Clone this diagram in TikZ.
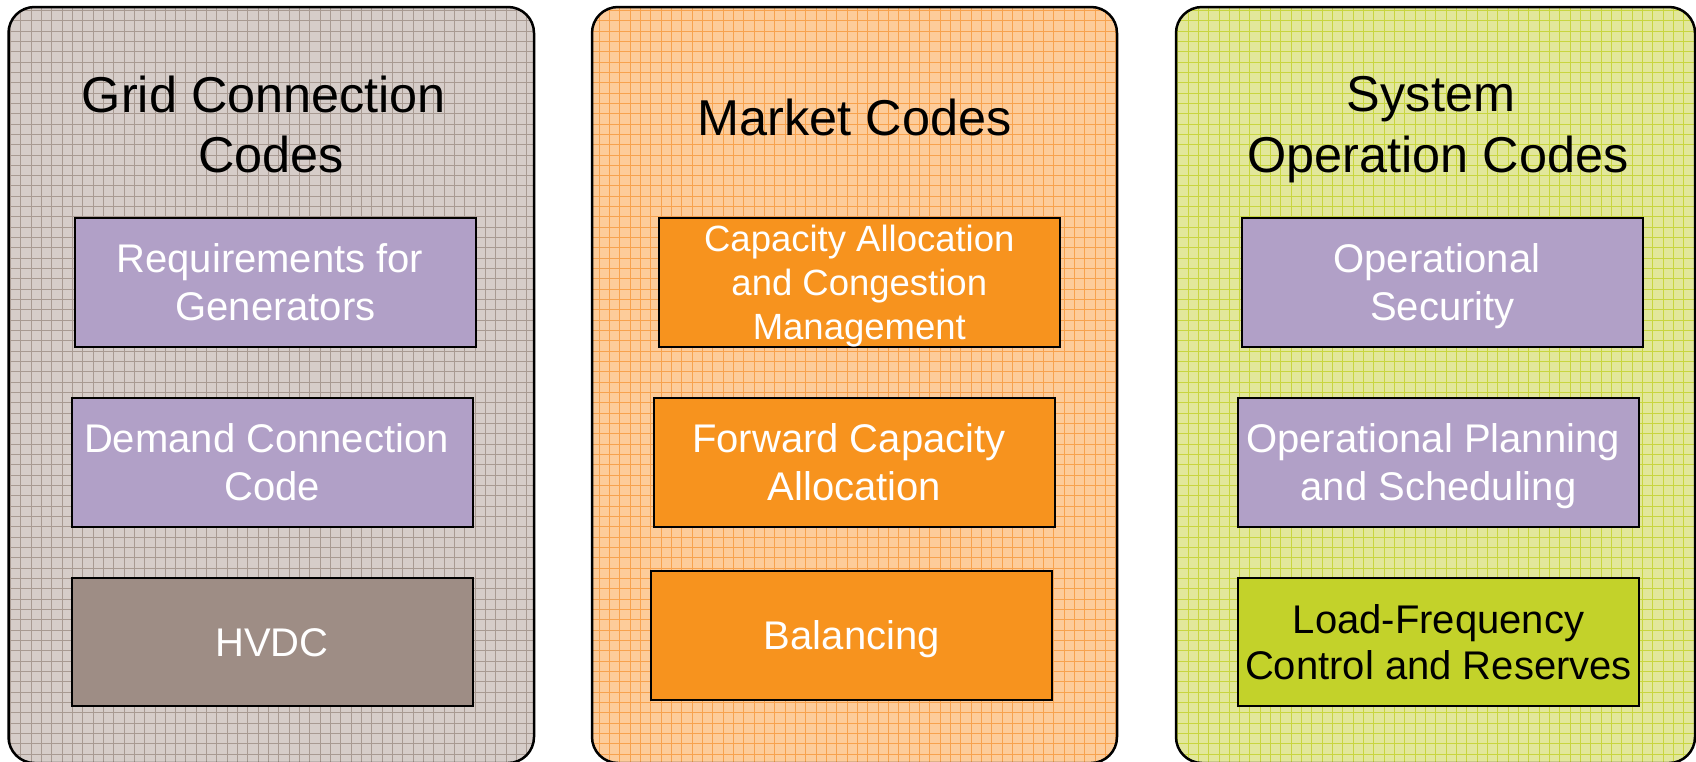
\documentclass[tikz,border=0pt]{standalone}
\usepackage{fontspec}
\setmainfont{Liberation Sans}
\definecolor{gcbg}{HTML}{D6CDC9}
\definecolor{gcline}{HTML}{A89A92}
\definecolor{mkbg}{HTML}{FDCC9A}
\definecolor{mkline}{HTML}{F7A24E}
\definecolor{sobg}{HTML}{E2E79B}
\definecolor{soline}{HTML}{C8D540}
\definecolor{purp}{HTML}{B1A0C7}
\definecolor{hvdcc}{HTML}{9E8D85}
\definecolor{orng}{HTML}{F7931E}
\definecolor{lfcc}{HTML}{C3D22A}
\newcommand\lnstrut{\rule[-0.18em]{0pt}{1.08em}}
\begin{document}
\begin{tikzpicture}[x=1pt,y=-1pt,
  panel/.style={draw=black, line width=2.5pt, rounded corners=26pt},
  gridln/.style={line width=0.9pt, step=10.33pt},
  box/.style={draw=black, line width=2pt, inner sep=0pt, text=white, align=center,
    font=\fontsize{40}{48}\selectfont},
  title/.style={inner sep=0pt, text=black, align=center, font=\fontsize{50.4}{60.7}\selectfont}]
\useasboundingbox (0,0) rectangle (1696,761);
\clip (0,0) rectangle (1696,761);
% panels
\begin{scope}
  \clip[rounded corners=26pt] (8.5,7) rectangle (534,763);
  \fill[gcbg] (0,0) rectangle (600,770);
  \draw[gridln, gcline] (0,770) grid (600,0);
\end{scope}
\draw[panel] (8.5,7) rectangle (534,763);
\begin{scope}
  \clip[rounded corners=26pt] (592,7) rectangle (1117,763);
  \fill[mkbg] (560,0) rectangle (1150,770);
  \draw[gridln, mkline] (560,770) grid (1150,0);
\end{scope}
\draw[panel] (592,7) rectangle (1117,763);
\begin{scope}
  \clip[rounded corners=26pt] (1176,7) rectangle (1695,763);
  \fill[sobg] (1150,0) rectangle (1700,770);
  \draw[gridln, soline] (1150,770) grid (1700,0);
\end{scope}
\draw[panel] (1176,7) rectangle (1695,763);
% titles
\node[title] (gct) at (271,124.5) {\lnstrut Grid Connection\hspace*{.278em}\\\lnstrut Codes};
\node[title] (mkt) at (854.5,117) {\lnstrut Market Codes};
\node[title] (sot) at (1438,124.5) {\lnstrut System\hspace*{.278em}\\\lnstrut Operation Codes};
% grid connection boxes
\node[box, fill=purp, minimum width=401pt, minimum height=129pt] (req) at (275.5,282.5)
  {\lnstrut Requirements for\hspace*{.278em}\\\lnstrut Generators};
\node[box, fill=purp, minimum width=401pt, minimum height=129pt] (dem) at (272,462.5)
  {\lnstrut Demand Connection\hspace*{.278em}\\\lnstrut Code};
\node[box, fill=hvdcc, minimum width=401pt, minimum height=128.5pt] (hvdc) at (272,642)
  {\lnstrut HVDC};
% market boxes
\node[box, fill=orng, minimum width=401pt, minimum height=129pt,
  font=\fontsize{36.5}{44}\selectfont] (cam) at (859.3,282.5)
  {\lnstrut Capacity Allocation\\\lnstrut and Congestion\\\lnstrut Management};
\node[box, fill=orng, minimum width=401pt, minimum height=128.5pt] (fca) at (854.5,462.3)
  {\lnstrut Forward Capacity\hspace*{.278em}\\\lnstrut Allocation};
\node[box, fill=orng, minimum width=401pt, minimum height=129pt] (bal) at (851.8,635.5)
  {\lnstrut Balancing};
% system operation boxes
\node[box, fill=purp, minimum width=401pt, minimum height=129pt] (ops) at (1442.5,282.5)
  {\lnstrut Operational\hspace*{.278em}\\\lnstrut Security};
\node[box, fill=purp, minimum width=401pt, minimum height=129pt] (opp) at (1438.5,462.5)
  {\lnstrut Operational Planning\hspace*{.278em}\\\lnstrut and Scheduling};
\node[box, fill=lfcc, text=black, minimum width=401pt, minimum height=128.5pt,
  font=\fontsize{40}{46}\selectfont] (lfc) at (1438.5,642)
  {\lnstrut Load-Frequency\\\lnstrut Control and Reserves};
\end{tikzpicture}
\end{document}
